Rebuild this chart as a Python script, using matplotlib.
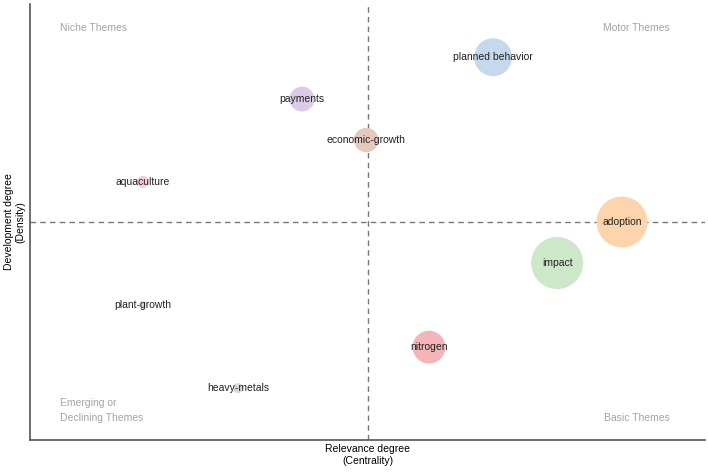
import matplotlib
matplotlib.use('Agg')
import matplotlib.pyplot as plt
import numpy as np

plt.rcParams.update({
    'font.family': ['Liberation Sans', 'DejaVu Sans'],
    'font.size': 7.5,
})

# thematic map data
themes = ['planned behavior', 'payments', 'economic-growth', 'aquaculture', 'adoption',
          'impact', 'plant-growth', 'heavy-metals', 'nitrogen']
centrality = [0.686, 0.403, 0.498, 0.167, 0.877, 0.781, 0.167, 0.308, 0.591]
density = [0.878, 0.782, 0.688, 0.592, 0.500, 0.406, 0.310, 0.119, 0.213]
freq = [360, 155, 150, 36, 650, 680, 16, 25, 270]
colors = ['#c5d8ec', '#dccbe6', '#e4cabd', '#f6cedb', '#fdd4ab',
          '#cde8c8', '#cfe6e0', '#d8d8d8', '#f3b5b8']

x_mid = 0.5
y_mid = 0.5

fig = plt.figure(figsize=(7.08, 4.72), dpi=100)
ax = fig.add_axes([0.0424, 0.0678, 0.9534, 0.9237])

ax.scatter(centrality, density, s=np.array(freq) * 2.07, c=colors, edgecolors='none', zorder=2)
for t, xv, yv in zip(themes, centrality, density):
    ax.text(xv, yv, t, ha='center', va='center', fontsize=7.5, color='#222222', zorder=3)

ax.axvline(x_mid, color='#777777', linestyle=(0, (4, 3)), linewidth=1, zorder=1)
ax.axhline(y_mid, color='#777777', linestyle=(0, (4, 3)), linewidth=1, zorder=1)

qc = '#a3a3a3'
ax.text(0.044, 0.945, 'Niche Themes', transform=ax.transAxes, color=qc, ha='left', va='center')
ax.text(0.948, 0.945, 'Motor Themes', transform=ax.transAxes, color=qc, ha='right', va='center')
ax.text(0.044, 0.068, 'Emerging or\nDeclining Themes', transform=ax.transAxes, color=qc,
        ha='left', va='center', linespacing=1.6)
ax.text(0.948, 0.050, 'Basic Themes', transform=ax.transAxes, color=qc, ha='right', va='center')

ax.set_xlim(0, 1)
ax.set_ylim(0, 1)
ax.set_xticks([])
ax.set_yticks([])
for s in ['top', 'right']:
    ax.spines[s].set_visible(False)
for s in ['left', 'bottom']:
    ax.spines[s].set_color('#555555')
    ax.spines[s].set_linewidth(1.2)

ax.set_xlabel('Relevance degree\n(Centrality)', fontsize=7.5, labelpad=3)
ax.set_ylabel('Development degree\n(Density)', fontsize=7.5, labelpad=3)

fig.savefig('out.png', dpi=100)
plt.close()
